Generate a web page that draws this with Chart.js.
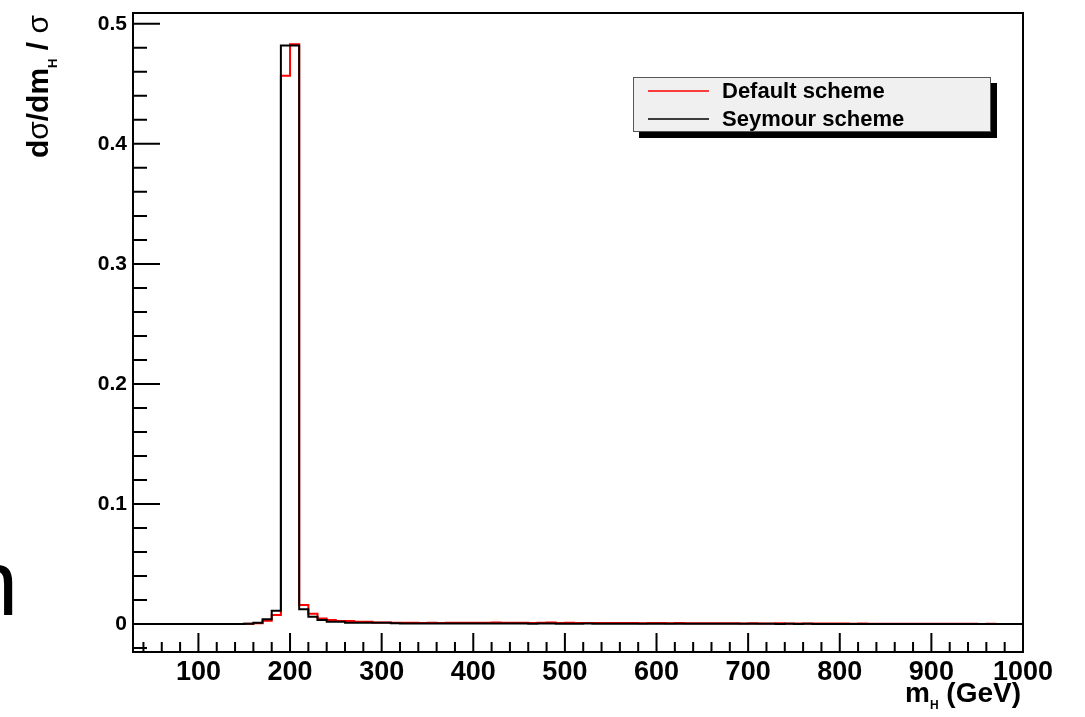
<!DOCTYPE html>
<html>
<head>
<meta charset="utf-8">
<title>Higgs mass distribution</title>
<script src="https://cdn.jsdelivr.net/npm/chart.js"></script>
<style>
  html, body { margin: 0; padding: 0; background: #fff; }
</style>
</head>
<body>
<canvas id="massChart" width="1085" height="717"></canvas>
<script>
// 10 GeV bins starting at 0 GeV, normalised dsigma/dm_H / sigma per bin
const binStart = 0;
const binWidth = 10;

const defaultScheme = [
  0, 0, 0, 0, 0, 0, 0, 0, 0, 0,
  0, 0, 0, 0, 0.0001, 0.0002, 0.0006, 0.0028, 0.0075, 0.4567,
  0.4830, 0.0158, 0.0085, 0.0047, 0.0033, 0.0025, 0.0025, 0.0020, 0.0020, 0.0013,
  0.0013, 0.0011, 0.0010, 0.0010, 0.0009, 0.0010, 0.0009, 0.0011, 0.0010, 0.0010,
  0.0011, 0.0010, 0.0012, 0.0010, 0.0010, 0.0011, 0.0009, 0.0010, 0.0012, 0.0009,
  0.0010, 0.0009, 0.0008, 0.0009, 0.0008, 0.0008, 0.0009, 0.0008, 0.0007, 0.0008,
  0.0008, 0.0007, 0.0009, 0.0007, 0.0007, 0.0006, 0.0007, 0.0006, 0.0006, 0.0005,
  0.0006, 0.0005, 0.0005, 0.0006, 0.0005, 0.0004, 0.0005, 0.0004, 0.0004, 0.0004,
  0.0004, 0.0003, 0.0004, 0.0003, 0.0003, 0.0003, 0.0003, 0.0002, 0.0003, 0.0002,
  0.0002, 0.0002, 0.0002, 0.0002, 0.0002, 0.0001, 0.0002, 0.0001, 0.0001, 0.0001
];

const seymourScheme = [
  0, 0, 0, 0, 0, 0, 0, 0, 0, 0,
  0, 0, 0, 0, 0, 0.0002, 0.0010, 0.0040, 0.0110, 0.4820,
  0.4820, 0.0123, 0.0060, 0.0033, 0.0020, 0.0020, 0.0010, 0.0010, 0.0010, 0.0010,
  0.0010, 0.0006, 0.0005, 0.0005, 0.0005, 0.0005, 0.0004, 0.0005, 0.0004, 0.0004,
  0.0004, 0.0004, 0.0005, 0.0004, 0.0004, 0.0004, 0.0003, 0.0004, 0.0004, 0.0003,
  0.0003, 0.0003, 0.0004, 0.0003, 0.0003, 0.0003, 0.0003, 0.0003, 0.0002, 0.0003,
  0.0003, 0.0002, 0.0003, 0.0002, 0.0002, 0.0002, 0.0002, 0.0002, 0.0002, 0.0002,
  0.0002, 0.0002, 0.0002, 0.0001, 0.0002, 0.0001, 0.0002, 0.0001, 0.0001, 0.0001,
  0.0001, 0.0001, 0.0001, 0.0001, 0.0001, 0.0001, 0.0001, 0.0001, 0.0001, 0.0001,
  0.0001, 0.0001, 0.0001, 0.0001, 0.0001, 0.0001, 0.0001, 0.0001, 0.0001, 0.0001
];

const seriesLabels = ['Default scheme', 'Seymour scheme'];
const seriesColors = ['#ff0000', '#000000'];

const xTicks = [100, 200, 300, 400, 500, 600, 700, 800, 900, 1000];
const yTicks = [0, 0.1, 0.2, 0.3, 0.4, 0.5];

const xRange = [28.6, 1000];
const yRange = [-0.0233, 0.509];

const FONT = '"Liberation Sans", Arial, Helvetica, sans-serif';

// histogram -> step points (low edge of every bin plus the closing edge)
function toSteps(values) {
  const pts = values.map((v, i) => ({ x: binStart + i * binWidth, y: v }));
  pts.push({ x: binStart + values.length * binWidth, y: values[values.length - 1] });
  return pts;
}

// draws a list of text pieces ending at x = 0, baseline y = 0; sub pieces are lowered
function drawPieces(ctx, pieces, size, subSize, subShift) {
  const fontOf = p => (p.weight || 'bold') + ' ' + (p.sub ? subSize : size) + 'px ' + FONT;
  let total = 0;
  pieces.forEach(p => { ctx.font = fontOf(p); total += ctx.measureText(p.t).width; });
  let x = -total;
  ctx.textAlign = 'left';
  ctx.textBaseline = 'alphabetic';
  pieces.forEach(p => {
    ctx.font = fontOf(p);
    ctx.fillText(p.t, x, p.sub ? subShift : 0);
    x += ctx.measureText(p.t).width;
  });
}

// no automatic label padding: the plot frame is placed by layout.padding alone
function noScalePadding(s) {
  s.paddingTop = 0;
  s.paddingBottom = 0;
  s.paddingLeft = 0;
  s.paddingRight = 0;
}

const frameAndDecor = {
  id: 'frameAndDecor',
  afterDraw(chart) {
    const { ctx, chartArea: a, scales: { x, y } } = chart;
    ctx.save();

    // frame
    ctx.strokeStyle = '#000';
    ctx.lineWidth = 2;
    ctx.strokeRect(a.left, a.top, a.right - a.left, a.bottom - a.top);

    // inward ticks, y: minor every 0.02, major every 0.1
    ctx.beginPath();
    for (let k = -1; k <= 25; k++) {
      const py = y.getPixelForValue(k * 0.02);
      if (py < a.top || py > a.bottom) continue;
      const len = k % 5 === 0 ? 27 : 14;
      ctx.moveTo(a.left, py);
      ctx.lineTo(a.left + len, py);
    }
    // x: minor every 20 GeV, major every 100 GeV
    for (let k = 2; k < 50; k++) {
      const px = x.getPixelForValue(k * 20);
      if (px < a.left || px > a.right) continue;
      const len = k % 5 === 0 ? 19 : 10;
      ctx.moveTo(px, a.bottom);
      ctx.lineTo(px, a.bottom - len);
    }
    ctx.stroke();

    // legend box with drop shadow
    const lx = 633, ly = 77, lw = 358, lh = 55;
    ctx.fillStyle = '#000';
    ctx.fillRect(lx + 6, ly + 6, lw, lh);
    ctx.fillStyle = '#f0f0f0';
    ctx.fillRect(lx, ly, lw, lh);
    ctx.strokeStyle = '#555';
    ctx.lineWidth = 1;
    ctx.strokeRect(lx + 0.5, ly + 0.5, lw - 1, lh - 1);
    seriesLabels.forEach((label, i) => {
      const rowY = ly + 14 + i * 28;
      ctx.strokeStyle = seriesColors[i];
      ctx.lineWidth = 1.5;
      ctx.beginPath();
      ctx.moveTo(lx + 15, rowY);
      ctx.lineTo(lx + 76, rowY);
      ctx.stroke();
      ctx.fillStyle = '#000';
      ctx.font = 'bold 22px ' + FONT;
      ctx.textAlign = 'left';
      ctx.textBaseline = 'middle';
      ctx.fillText(label, lx + 89, rowY + 1);
    });

    // y title, rotated, flush with top of frame
    ctx.fillStyle = '#000';
    ctx.save();
    ctx.translate(48, 15);
    ctx.rotate(-Math.PI / 2);
    drawPieces(ctx, [
      { t: 'd' }, { t: 'σ', weight: 'normal' }, { t: '/dm' }, { t: 'H', sub: true },
      { t: ' / ' }, { t: 'σ', weight: 'normal' }
    ], 30, 13, 9);
    ctx.restore();

    // x title, flush with right of frame
    ctx.save();
    ctx.translate(1021, 702);
    drawPieces(ctx, [{ t: 'm' }, { t: 'H', sub: true }, { t: ' (GeV)' }], 28, 12, 7);
    ctx.restore();

    // stray glyph at the left margin
    ctx.font = '92px ' + FONT;
    ctx.textAlign = 'left';
    ctx.textBaseline = 'alphabetic';
    const m = ctx.measureText('n');
    ctx.fillText('n', 13 - m.actualBoundingBoxRight, 615);

    ctx.restore();
  }
};

const ctx = document.getElementById('massChart').getContext('2d');
new Chart(ctx, {
  type: 'line',
  data: {
    datasets: [
      {
        label: seriesLabels[0],
        data: toSteps(defaultScheme),
        borderColor: seriesColors[0],
        borderWidth: 2,
        stepped: 'before',
        pointRadius: 0,
        fill: false,
        order: 1
      },
      {
        label: seriesLabels[1],
        data: toSteps(seymourScheme),
        borderColor: seriesColors[1],
        borderWidth: 2,
        stepped: 'before',
        pointRadius: 0,
        fill: false,
        order: 0
      }
    ]
  },
  options: {
    responsive: false,
    animation: false,
    devicePixelRatio: 1,
    layout: { padding: { top: 13, right: 62, left: 0, bottom: 0 } },
    plugins: {
      legend: { display: false },
      tooltip: { enabled: false }
    },
    scales: {
      x: {
        type: 'linear',
        min: xRange[0],
        max: xRange[1],
        grid: { display: false, drawTicks: false },
        border: { display: false },
        afterBuildTicks: s => { s.ticks = xTicks.map(v => ({ value: v })); },
        afterFit: s => { s.height = 65; noScalePadding(s); },
        ticks: {
          color: '#000',
          font: { family: FONT, size: 27, weight: 'bold' },
          padding: 4,
          maxRotation: 0,
          autoSkip: false,
          callback: v => String(v)
        }
      },
      y: {
        type: 'linear',
        min: yRange[0],
        max: yRange[1],
        grid: { display: false, drawTicks: false },
        border: { display: false },
        afterBuildTicks: s => { s.ticks = yTicks.map(v => ({ value: v })); },
        afterFit: s => { s.width = 133; noScalePadding(s); },
        ticks: {
          color: '#000',
          font: { family: FONT, size: 21, weight: 'bold' },
          padding: 6,
          autoSkip: false,
          callback: v => String(v)
        }
      }
    }
  },
  plugins: [frameAndDecor]
});
</script>
</body>
</html>
